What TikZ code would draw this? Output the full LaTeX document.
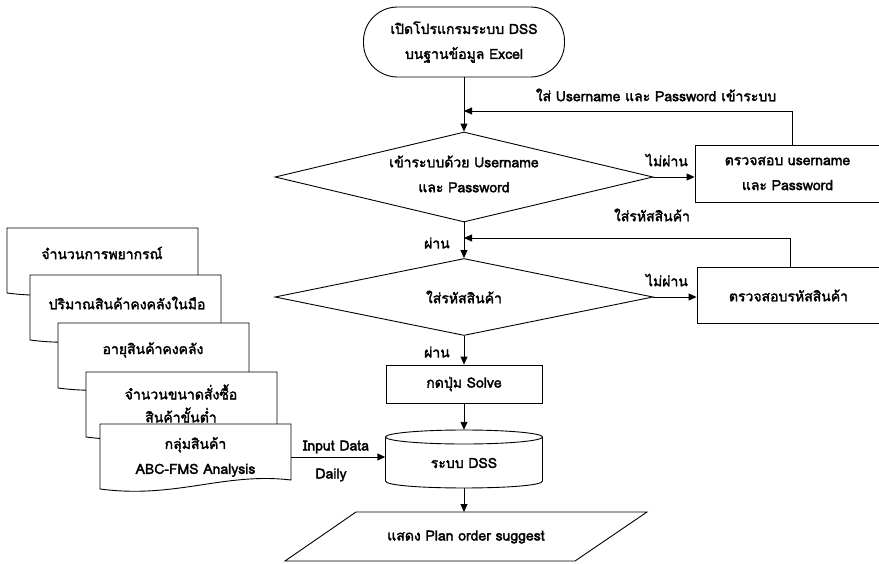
\documentclass[tikz,border=0pt]{standalone}
\usepackage{fontspec}
\setmainfont[Script=Thai,FakeBold=2.2]{Loma}
\usetikzlibrary{arrows.meta,shapes.geometric}
\newcommand{\mydoc}[2]{%
  \draw[docline] (#1,#2) -- (#1+191,#2) -- (#1+191,#2+56)
    .. controls (#1+124,#2+48) and (#1+76,#2+75) .. (#1,#2+65) -- cycle;}
\begin{document}
\begin{tikzpicture}[x=1pt,y=-1pt,
  every node/.style={font=\fontsize{14}{25}\selectfont, inner sep=0pt},
  plain/.style={line width=0.9pt},
  arr/.style={line width=0.9pt,-{Triangle[length=8pt,width=7pt]}},
  procbox/.style={draw,line width=0.9pt,rectangle,align=center,fill=white},
  term/.style={draw,line width=0.9pt,rounded corners=34pt,minimum width=201pt,minimum height=70pt,align=center},
  dia/.style={draw,line width=0.9pt,diamond,minimum width=378pt},
  lbl/.style={align=center},
  docline/.style={draw,line width=0.9pt,fill=white},
  ]
\useasboundingbox (0,0) rectangle (879,563);

% main column
\node[term] (start) at (464,42) {เปิดโปรแกรมระบบ DSS\\บนฐานข้อมูล Excel};
\node[dia,minimum height=90pt] (d1) at (464,177) {};
\node[lbl] (d1t) at (464,174) {เข้าระบบด้วย Username\\และ Password};
\node[procbox,minimum width=185pt,minimum height=57pt] (chk1) at (787.5,173.5) {ตรวจสอบ username\\และ Password};
\node[dia,minimum height=77pt] (d2) at (464,297) {};
\node[lbl] (d2t) at (464,297) {ใส่รหัสสินค้า};
\node[procbox,minimum width=183pt,minimum height=56pt] (chk2) at (788.5,295.5) {ตรวจสอบรหัสสินค้า};
\node[procbox,minimum width=156pt,minimum height=38pt] (solve) at (464,384) {กดปุ่ม Solve};

% cylinder
\node[minimum width=157pt,minimum height=58pt] (dss) at (464,459) {};
\draw[plain,fill=white] (385.5,437) -- (385.5,481) .. controls (385.5,490.3) and (542.5,490.3) .. (542.5,481) -- (542.5,437);
\draw[plain] (464,437) ellipse [x radius=78.5,y radius=7];
\node (dsst) at (464,463) {ระบบ DSS};

% output
\draw[plain] (356,512) -- (647,512) -- (575,561) -- (285,561) -- cycle;
\coordinate (outtop) at (464,512);
\node (out) at (466,537) {แสดง Plan order suggest};

% documents
\mydoc{7}{228}
\node (doc1) at (102,253) {จำนวนการพยากรณ์};
\mydoc{30}{275}
\node (doc2) at (127,303) {ปริมาณสินค้าคงคลังในมือ};
\mydoc{58}{323}
\node (doc3) at (153,350) {อายุสินค้าคงคลัง};
\mydoc{86}{372}
\node[lbl,font=\fontsize{14}{23}\selectfont] (doc4) at (181,403.5) {จำนวนขนาดสั่งซื้อ\\สินค้าขั้นต่ำ};
\mydoc{100}{424}
\node[lbl,minimum width=191pt,minimum height=60pt] (doc5) at (195.5,457) {กลุ่มสินค้า\\ABC-FMS Analysis};

% connectors
\coordinate (j1) at (464,111);
\coordinate (j2) at (464,238);
\draw[arr] (start.south) -- (d1.north);
\draw[arr] (d1.east) -- (d1.east -| chk1.west);
\draw[arr] ([xshift=4.5pt]chk1.north) |- (j1);
\draw[arr] (d1.south) -- (d2.north);
\draw[arr] (d2.east) -- (d2.east -| chk2.west);
\draw[arr] ([xshift=1.5pt]chk2.north) |- (j2);
\draw[arr] (d2.south) -- (solve.north);
\draw[arr] (solve.south) -- (dss.north);
\draw[arr] (dss.south) -- (outtop);
\draw[arr] (doc5.east) -- (doc5.east -| dss.west);

% labels
\node (l1) at (656,95) {ใส่ Username และ Password เข้าระบบ};
\node (l2) at (667,160) {ไม่ผ่าน};
\node (l3) at (437,243) {ผ่าน};
\node (l4) at (652,215) {ใส่รหัสสินค้า};
\node (l5) at (667,280) {ไม่ผ่าน};
\node (l6) at (437,352) {ผ่าน};
\node (l7) at (336,447) {Input Data};
\node (l8) at (331,475) {Daily};
\end{tikzpicture}
\end{document}
